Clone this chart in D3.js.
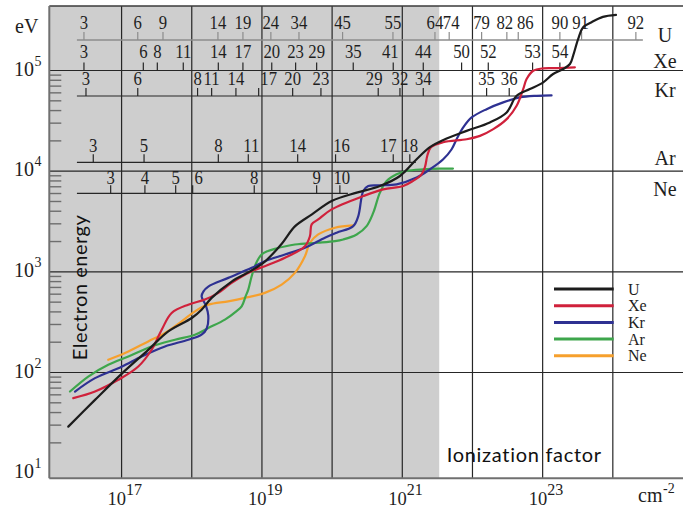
<!DOCTYPE html>
<html>
<head>
<meta charset="utf-8">
<script src="https://cdn.jsdelivr.net/npm/d3@7"></script>
<style>
  html, body { margin: 0; padding: 0; background: #fff; }
  svg { display: block; }
  .serif { font-family: "Liberation Serif", "Times New Roman", serif; fill: #1e1e1e; }
  .sans { font-family: Lato, "Open Sans", sans-serif; fill: #111; }
</style>
</head>
<body>
<svg id="chart" width="683" height="511"></svg>
<script>
// Electron energy (eV) needed to reach a given ionization factor (cm^-2)
// for uranium and four noble gases, with the ionization-stage scales on top.

const uN  = [1.74e16, 4.18e16, 1.0e17, 2.40e17, 4.63e17, 1.0e18, 1.38e18, 1.92e18, 3.70e18, 6.75e18, 1.10e19, 1.93e19, 2.95e19, 5.16e19, 1.0e20, 2.24e20, 4.80e20, 9.26e20, 1.60e21, 2.48e21, 3.79e21, 8.25e21, 1.77e22, 3.07e22, 4.26e22, 6.58e22, 1.02e23, 1.41e23, 1.96e23, 2.45e23, 2.72e23, 3.21e23, 3.78e23, 4.98e23, 7.22e23, 1.11e24];
const uE  = [29, 53.5, 97, 168, 256, 348, 421, 551, 801, 1010, 1266, 1914, 2827, 3722, 5073, 6120, 7121, 8959, 13140, 17300, 20310, 25140, 30480, 38330, 56100, 65410, 76280, 92300, 103500, 116100, 140400, 205900, 269300, 302000, 341000, 357000];

const xeN = [2.05e16, 4.18e16, 8.97e16, 1.73e17, 2.68e17, 3.73e17, 5.17e17, 8.92e17, 1.54e18, 2.39e18, 3.70e18, 7.14e18, 1.10e19, 2.13e19, 4.10e19, 4.83e19, 5.11e19, 6.34e19, 9.85e19, 2.78e20, 5.35e20, 1.03e21, 1.43e21, 1.84e21, 2.10e21, 2.28e21, 2.56e21, 3.83e21, 8.25e21, 1.28e22, 1.98e22, 3.07e22, 4.26e22, 5.28e22, 5.91e22, 7.34e22, 1.02e23, 1.58e23, 2.88e23];
const xeE = [55.6, 64.7, 84.6, 114.8, 168.3, 266, 390, 472, 530, 618, 777, 1014, 1137, 1378, 1799, 2262, 2959, 3318, 4174, 5662, 6600, 7121, 8023, 9101, 10940, 14400, 17300, 19400, 20780, 22420, 26150, 32880, 44600, 65410, 82300, 99500, 105200, 105700, 107600];

const krN = [2.17e16, 4.18e16, 1.0e17, 1.93e17, 4.15e17, 8.92e17, 1.38e18, 1.63e18, 1.72e18, 1.59e18, 1.38e18, 1.47e18, 1.72e18, 3.31e18, 7.14e18, 1.10e19, 2.13e19, 4.10e19, 7.90e19, 1.16e20, 2.00e20, 2.36e20, 2.78e20, 3.27e20, 4.80e20, 8.31e20, 1.60e21, 2.48e21, 3.83e21, 5.05e21, 5.94e21, 7.38e21, 9.72e21, 1.59e22, 2.74e22, 4.74e22, 8.20e22, 1.34e23];
const krE = [64.7, 87.9, 114, 144.3, 181.6, 211.7, 237.4, 272.4, 367, 461.6, 571.5, 641, 714, 871, 1096, 1275, 1487, 1734, 2181, 2446, 2846, 3578, 6350, 7121, 7235, 7403, 8636, 10440, 13140, 16520, 20780, 27180, 34170, 41340, 48230, 54080, 56100, 56620];

const arN = [1.84e16, 3.35e16, 6.46e16, 1.25e17, 2.68e17, 5.77e17, 1.11e18, 1.72e18, 2.97e18, 4.26e18, 5.14e18, 5.83e18, 6.39e18, 7.14e18, 8.22e18, 9.91e18, 1.22e19, 1.53e19, 2.95e19, 6.34e19, 1.10e20, 1.44e20, 2.24e20, 3.10e20, 3.86e20, 4.80e20, 5.98e20, 8.31e20, 1.15e21, 1.99e21, 3.44e21, 5.27e21];
const arE = [64.7, 91.2, 119.3, 144.3, 181.6, 211.7, 237.4, 276.8, 334.9, 402.4, 454.4, 567.5, 666.3, 904, 1210, 1487, 1612, 1695, 1870, 1945, 2018, 2097, 2352, 2846, 3869, 6120, 7987, 9314, 10050, 10440, 10610, 10610];

const neN = [6.46e16, 1.12e17, 2.40e17, 4.15e17, 7.18e17, 1.11e18, 1.72e18, 3.31e18, 5.73e18, 1.10e19, 1.91e19, 2.95e19, 4.10e19, 4.83e19, 6.34e19, 1.10e20, 2.00e20];
const neE = [133.8, 156.1, 203.7, 246.9, 322.1, 405.3, 472, 509.6, 551, 618, 747.3, 977, 1430, 1945, 2352, 2743, 2892];

// Ionization-factor values at which each charge state is reached
const uTickN  = [2.91e16, 1.70e17, 3.89e17, 2.36e18, 5.36e18, 1.34e19, 3.37e19, 1.41e20, 7.36e20, 2.92e21, 4.66e21, 1.35e22, 3.09e22, 4.49e22, 1.76e23, 3.59e23, 2.13e24];
const uTickZ  = [3, 6, 9, 14, 19, 24, 34, 45, 55, 64, 74, 79, 82, 86, 90, 91, 92];
const xeTickN = [2.91e16, 2.04e17, 3.23e17, 7.57e17, 2.39e18, 5.36e18, 1.38e19, 3.02e19, 6.02e19, 2.00e20, 7.43e20, 1.99e21, 7.00e21, 1.68e22, 7.19e22, 1.76e23];
const xeTickZ = [3, 6, 8, 11, 14, 17, 20, 23, 29, 35, 41, 44, 50, 52, 53, 54];
const krTickN = [3.11e16, 1.70e17, 1.21e18, 1.92e18, 4.26e18, 8.98e18, 2.74e19, 6.93e19, 4.54e20, 9.26e20, 1.99e21, 1.59e22, 3.34e22];
const krTickZ = [3, 6, 8, 11, 14, 17, 20, 23, 29, 32, 34, 35, 36];
const arTickN = [3.95e16, 2.09e17, 2.39e18, 6.39e18, 3.23e19, 1.12e20, 7.43e20, 1.28e21];
const arTickZ = [3, 5, 8, 11, 14, 16, 17, 18];
const neTickN = [6.99e16, 2.15e17, 5.90e17, 1.03e18, 7.77e18, 6.02e19, 1.29e20];
const neTickZ = [3, 4, 5, 6, 8, 9, 10];

const elements = ["U", "Xe", "Kr", "Ar", "Ne"];
const xDecades = [17, 19, 21, 23];
const yDecades = [1, 2, 3, 4, 5];
const shadeEnd = 3.36e21;

// ---------------------------------------------------------------------------
const svg = d3.select("#chart");
const W = 683;
const plot = { left: 49.3, right: 683, top: 6, bottom: 478.3 };

const x = d3.scaleLog().domain([Math.pow(10, 15.97), 1e25]).range([plot.left, plot.right]);
const y = d3.scaleLog().domain([Math.pow(10, 0.949), Math.pow(10, 5.641)]).range([plot.bottom, plot.top]);

const colors = { U: "#1c1c1c", Xe: "#d0213b", Kr: "#2e3192", Ar: "#3ea64c", Ne: "#f6a02d" };
const series = [
  { name: "U",  n: uN,  e: uE },
  { name: "Xe", n: xeN, e: xeE },
  { name: "Kr", n: krN, e: krE },
  { name: "Ar", n: arN, e: arE },
  { name: "Ne", n: neN, e: neE }
];

// shaded band
svg.append("rect")
  .attr("x", plot.left).attr("y", plot.top)
  .attr("width", x(shadeEnd) - plot.left).attr("height", plot.bottom - plot.top)
  .attr("fill", "#cecece");

// grid: one vertical line per decade, horizontal lines at 10^2..10^5
const grid = svg.append("g").attr("stroke", "#262626").attr("stroke-width", 1.2);
d3.range(17, 25).forEach(p => {
  const gx = x(Math.pow(10, p));
  grid.append("line").attr("x1", gx).attr("x2", gx).attr("y1", plot.top).attr("y2", plot.bottom);
});
[2, 3, 4, 5].forEach(p => {
  const gy = y(Math.pow(10, p));
  grid.append("line").attr("x1", plot.left).attr("x2", W).attr("y1", gy).attr("y2", gy);
});

// minor ticks on the energy axis
const minor = svg.append("g").attr("stroke", "#6e6e6e").attr("stroke-width", 1.4);
d3.range(1, 5).forEach(p => {
  d3.range(2, 10).forEach(k => {
    const my = y(k * Math.pow(10, p));
    minor.append("line").attr("x1", plot.left).attr("x2", plot.left + 12).attr("y1", my).attr("y2", my);
  });
});

// charge-state scales
const rows = {
  U:  { ticks: uTickN,  z: uTickZ,  lineY: 40,    base: 28.5, from: 2.31e16, to: 2.68e24, stroke: "#8c8c8c", nudge: { 74: 2, 82: -2, 86: 7, 91: -1 } },
  Xe: { ticks: xeTickN, z: xeTickZ, lineY: y(1e5), base: 58,  from: null,    to: null,    stroke: "#262626", nudge: { 41: -3 } },
  Kr: { ticks: krTickN, z: krTickZ, lineY: 96,    base: 85,   from: 2.31e16, to: 1e23,    stroke: "#262626", nudge: { 17: 10, 29: -4 } },
  Ar: { ticks: arTickN, z: arTickZ, lineY: 162.3, base: 152,  from: 2.31e16, to: 1.56e21, stroke: "#262626", nudge: { 11: 3, 16: 6, 17: -5 } },
  Ne: { ticks: neTickN, z: neTickZ, lineY: 193.3, base: 183.5, from: 2.31e16, to: 1.68e20, stroke: "#262626", nudge: { 6: 6, 10: 2 } }
};
const nameBase = { U: 41.7, Xe: 68.3, Kr: 96.7, Ar: 165, Ne: 196 };

elements.forEach(name => {
  const r = rows[name];
  const g = svg.append("g");
  if (r.from !== null) {
    g.append("line")
      .attr("x1", x(r.from)).attr("x2", x(r.to))
      .attr("y1", r.lineY).attr("y2", r.lineY)
      .attr("stroke", r.stroke).attr("stroke-width", name === "U" ? 1.6 : 1.2);
  }
  r.ticks.forEach((v, i) => {
    const tx = x(v);
    g.append("line")
      .attr("x1", tx).attr("x2", tx)
      .attr("y1", r.lineY - 8).attr("y2", r.lineY)
      .attr("stroke", r.stroke).attr("stroke-width", 1.2);
    const dx = r.nudge[r.z[i]] || 0;
    g.append("text")
      .attr("class", "serif")
      .attr("transform", `translate(${tx + dx},${r.base}) scale(0.88,1)`)
      .attr("text-anchor", "middle")
      .attr("font-size", 19)
      .text(r.z[i]);
  });
  svg.append("text")
    .attr("class", "serif")
    .attr("x", 665).attr("y", nameBase[name])
    .attr("text-anchor", "middle")
    .attr("font-size", 20)
    .text(name);
});

// curves
const line = d3.line()
  .x(d => x(d[0]))
  .y(d => y(d[1]))
  .curve(d3.curveCatmullRom.alpha(0.5));

const curves = svg.append("g").attr("fill", "none").attr("stroke-width", 2.2)
  .attr("stroke-linejoin", "round").attr("stroke-linecap", "round");
series.slice().reverse().forEach(s => {
  curves.append("path")
    .attr("d", line(d3.zip(s.n, s.e)))
    .attr("stroke", colors[s.name]);
});

// frame
const frame = svg.append("g");
frame.append("line").attr("x1", plot.left).attr("x2", W).attr("y1", plot.top).attr("y2", plot.top)
  .attr("stroke", "#3a3a3a").attr("stroke-width", 1.6);
frame.append("line").attr("x1", plot.left).attr("x2", plot.left).attr("y1", plot.top).attr("y2", plot.bottom)
  .attr("stroke", "#707070").attr("stroke-width", 2);
frame.append("line").attr("x1", plot.left).attr("x2", W).attr("y1", plot.bottom).attr("y2", plot.bottom)
  .attr("stroke", "#707070").attr("stroke-width", 2);

// axis numbers, written as powers of ten
yDecades.forEach(p => {
  const ty = y(Math.pow(10, p));
  svg.append("text").attr("class", "serif").attr("x", 34).attr("y", ty + 5)
    .attr("text-anchor", "end").attr("font-size", 20).text("10");
  svg.append("text").attr("class", "serif").attr("x", 34.5).attr("y", ty - 5)
    .attr("font-size", 14).text(p);
});
xDecades.forEach(p => {
  const tx = x(Math.pow(10, p));
  svg.append("text").attr("class", "serif").attr("x", tx - 14).attr("y", 504.7)
    .attr("font-size", 18.5).text("10");
  svg.append("text").attr("class", "serif").attr("x", tx + 4.5).attr("y", 495.3)
    .attr("font-size", 16).text(p);
});

svg.append("text").attr("class", "serif").attr("x", 15).attr("y", 33).attr("font-size", 20).text("eV");
svg.append("text").attr("class", "serif").attr("x", 638).attr("y", 502).attr("font-size", 20).text("cm");
svg.append("text").attr("class", "serif").attr("x", 663).attr("y", 493).attr("font-size", 14).text("-2");

// axis titles
svg.append("text").attr("class", "sans")
  .attr("transform", "translate(86.5,287.5) rotate(-90)")
  .attr("text-anchor", "middle").attr("font-size", 20).attr("letter-spacing", 0.5)
  .text("Electron energy");
svg.append("text").attr("class", "sans")
  .attr("x", 446.7).attr("y", 461.7).attr("font-size", 20).attr("letter-spacing", 0.7)
  .text("Ionization factor");

// legend
const legend = svg.append("g");
const legendTop = 289, legendStep = 16.7;
elements.forEach((name, i) => {
  const ly = legendTop + i * legendStep;
  legend.append("line").attr("x1", 554).attr("x2", 613.7).attr("y1", ly).attr("y2", ly)
    .attr("stroke", colors[name]).attr("stroke-width", 3);
  legend.append("text").attr("class", "serif").attr("x", 628).attr("y", ly + 5.5)
    .attr("font-size", 16).text(name);
});
</script>
</body>
</html>
